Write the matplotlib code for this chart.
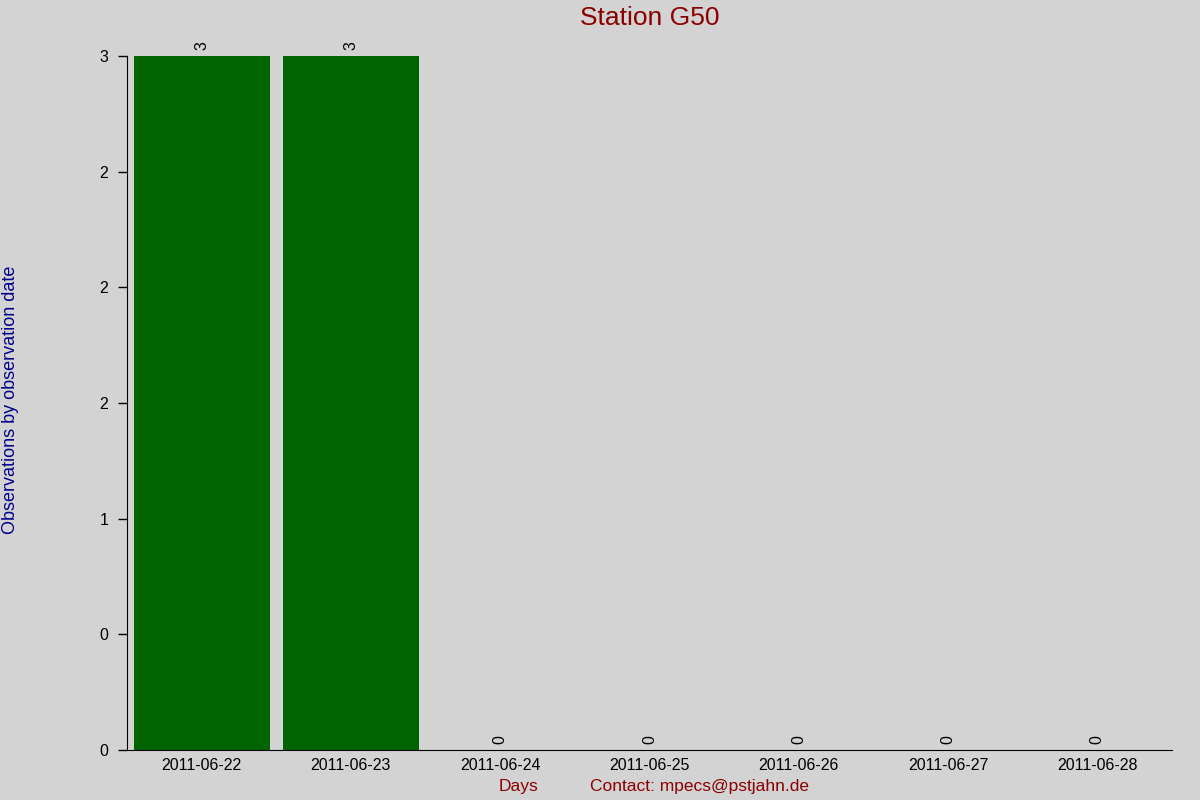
import matplotlib.pyplot as plt

plt.rcParams['font.family'] = ['Liberation Sans', 'DejaVu Sans']

# data
days = ['2011-06-22', '2011-06-23', '2011-06-24', '2011-06-25',
        '2011-06-26', '2011-06-27', '2011-06-28']
counts = [3, 3, 0, 0, 0, 0, 0]
yticks = [0, 0.5, 1, 1.5, 2, 2.5, 3]

bg = '#d3d3d3'
fig = plt.figure(figsize=(12, 8), dpi=100, facecolor=bg)
ax = fig.add_axes([127 / 1200, 50 / 800, 1045 / 1200, 694 / 800])
ax.set_facecolor(bg)

x = list(range(len(days)))
ax.bar(x, counts, width=0.91, color='#006400')

# rotated value labels above each bar
for xi, c in zip(x, counts):
    ax.annotate(str(c), (xi, c), xytext=(0, 4), textcoords='offset points',
                rotation=90, ha='center', va='bottom', fontsize=11.5)

ax.set_xlim(-0.5, 6.5)
ax.set_ylim(0, 3)
ax.set_xticks(x)
ax.set_xticklabels(days, fontsize=11.5)
ax.tick_params(axis='x', length=0, pad=6)
ax.set_yticks(yticks)
ax.set_yticklabels(['%.0f' % v for v in yticks], fontsize=11.5)
ax.tick_params(axis='y', length=6.5, width=1, pad=7)

for s in ['top', 'right']:
    ax.spines[s].set_visible(False)

# title placed in figure coords so the value labels don't push it down
fig.text(649.5 / 1200, 1 - 18 / 800, 'Station G50', color='#8b0000', fontsize=19,
         ha='center', va='center')
fig.text(11 / 1200, 0.5, 'Observations by observation date', rotation=90,
         color='#00008b', fontsize=13, ha='center', va='center')
fig.text(518 / 1200, 1 - 786 / 800, 'Days', color='#8b0000', fontsize=12.5,
         ha='center', va='center')
fig.text(590 / 1200, 1 - 786 / 800, 'Contact: mpecs@pstjahn.de', color='#8b0000',
         fontsize=12.5, ha='left', va='center')

fig.savefig('out.png', dpi=100, facecolor=bg)
